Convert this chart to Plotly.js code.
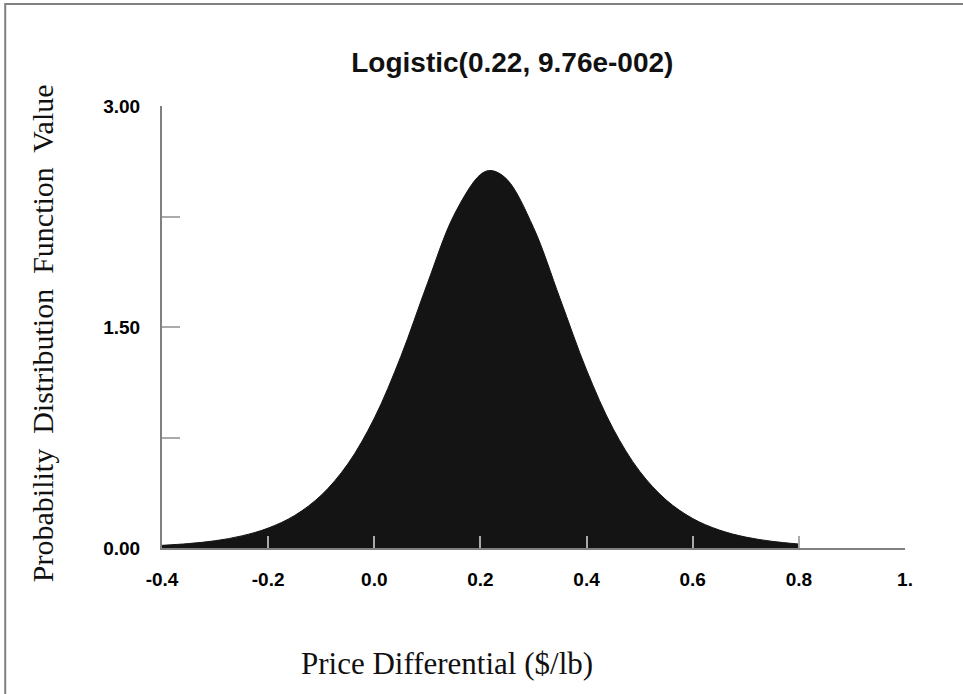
<!DOCTYPE html>
<html>
<head>
<meta charset="utf-8">
<script src="https://cdn.plot.ly/plotly-3.0.1.min.js"></script>
<style>
html,body{margin:0;padding:0;background:#fff;}
#chart{width:963px;height:694px;}
</style>
</head>
<body>
<div id="chart"></div>
<script>
// Values
const priceDiff = [-0.40, -0.35, -0.30, -0.25, -0.20, -0.15, -0.10, -0.05, 0.00, 0.05, 0.10, 0.15, 0.20, 0.22, 0.25, 0.30, 0.35, 0.40, 0.45, 0.50, 0.55, 0.60, 0.65, 0.70, 0.75, 0.80];
const pdfValue  = [0.018, 0.030, 0.049, 0.082, 0.135, 0.221, 0.358, 0.570, 0.881, 1.300, 1.795, 2.258, 2.535, 2.562, 2.502, 2.175, 1.693, 1.208, 0.810, 0.521, 0.326, 0.200, 0.122, 0.074, 0.045, 0.027];

const xTickVals = [-0.4, -0.2, 0.0, 0.2, 0.4, 0.6, 0.8, 1.0];
const xTickText = ["-0.4", "-0.2", "0.0", "0.2", "0.4", "0.6", "0.8", "1."];
const yTickVals = [0, 0.75, 1.5, 2.25, 3];
const yTickText = ["0.00", "", "1.50", "", "3.00"];

const chartTitle = "Logistic(0.22, 9.76e-002)";
const xTitle = "Price Differential ($/lb)";
const yTitle = "Probability&nbsp; Distribution&nbsp; Function&nbsp; Value";

const tickFont = {family: "Liberation Sans, Arial, sans-serif", size: 19, color: "#000", weight: "bold"};

const trace = {
  x: priceDiff,
  y: pdfValue,
  type: "scatter",
  mode: "lines",
  line: {color: "#141414", width: 1, shape: "spline"},
  fill: "tozeroy",
  fillcolor: "#141414",
  hoverinfo: "skip",
  showlegend: false
};

const layout = {
  width: 963,
  height: 694,
  margin: {l: 162, r: 58, t: 106, b: 146},
  paper_bgcolor: "#fff",
  plot_bgcolor: "#fff",
  title: {
    text: "<b>" + chartTitle + "</b>",
    font: {family: "Liberation Sans, Arial, sans-serif", size: 28, color: "#111"},
    x: 0.532, xanchor: "center", xref: "container",
    y: 0.911, yanchor: "middle", yref: "container"
  },
  xaxis: {
    range: [-0.4, 1.0],
    tickvals: xTickVals,
    ticktext: xTickText,
    ticks: "inside",
    ticklen: 12,
    tickwidth: 2,
    tickcolor: "#aaaaaa",
    ticklabelstandoff: 13,
    showline: true,
    linecolor: "#808080",
    linewidth: 2,
    showgrid: false,
    zeroline: false,
    tickfont: tickFont,
    fixedrange: true
  },
  yaxis: {
    range: [0, 3],
    tickvals: yTickVals,
    ticktext: yTickText,
    ticks: "inside",
    ticklen: 18,
    tickwidth: 2,
    tickcolor: "#aaaaaa",
    ticklabelstandoff: 16,
    showline: true,
    linecolor: "#808080",
    linewidth: 2,
    showgrid: false,
    zeroline: false,
    tickfont: tickFont,
    fixedrange: true
  },
  annotations: [
    {
      text: xTitle, xref: "paper", yref: "paper",
      x: 0.3836, y: -0.262, xanchor: "center", yanchor: "middle",
      showarrow: false,
      font: {family: "Liberation Serif, Times New Roman, serif", size: 31, color: "#111"}
    },
    {
      text: yTitle, xref: "paper", yref: "paper",
      x: -0.1615, y: 0.486, xanchor: "center", yanchor: "middle",
      textangle: -90, showarrow: false,
      font: {family: "Liberation Serif, Times New Roman, serif", size: 30, color: "#111"}
    }
  ],
  shapes: [
    {
      type: "path", xref: "paper", yref: "paper",
      path: "M -0.211 -0.335 L -0.211 1.2308 L 1.08 1.2308",
      line: {color: "#808080", width: 2}
    }
  ]
};

Plotly.newPlot("chart", [trace], layout, {displayModeBar: false, staticPlot: true});
</script>
</body>
</html>
